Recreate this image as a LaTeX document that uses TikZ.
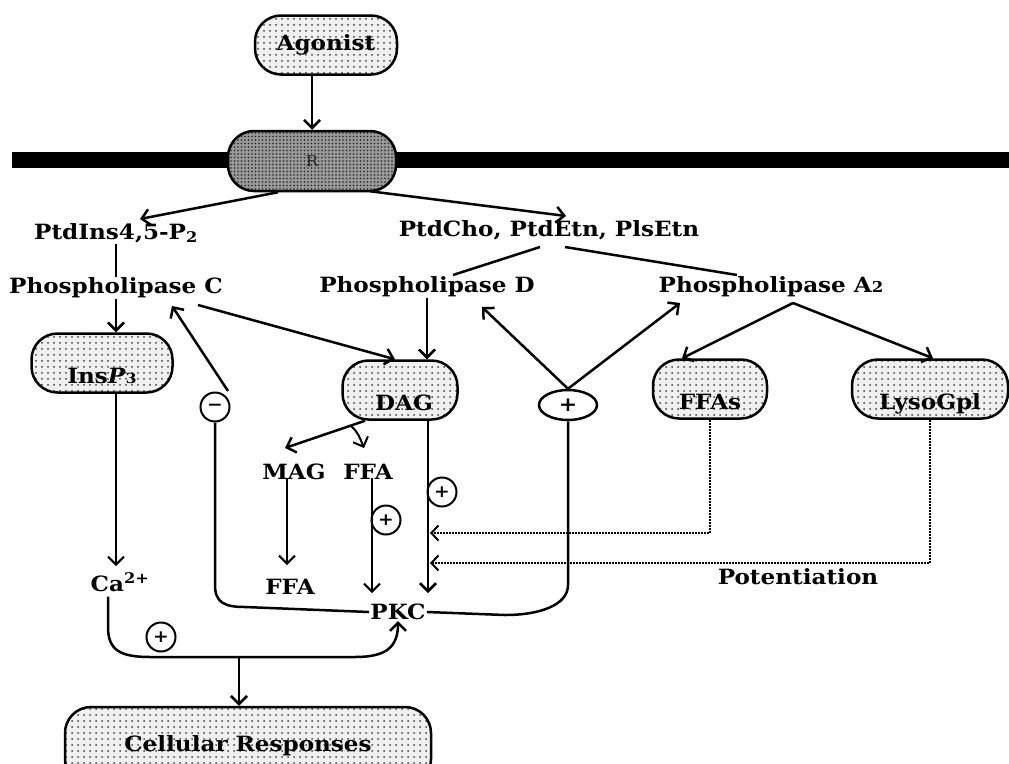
\documentclass[tikz,border=0pt]{standalone}
\usepackage{fontspec}
\setmainfont{DejaVu Serif}[FakeStretch=1.1]
\usetikzlibrary{arrows.meta,shapes.geometric,calc,patterns.meta}
\begin{document}
\begin{tikzpicture}[x=1pt,y=-1pt,
  lw/.style={line width=2.5pt},
  arr/.style={line width=2.5pt,-{Straight Barb[length=8pt,width=16pt]}},
  thinarr/.style={line width=2pt,-{Straight Barb[length=8pt,width=16pt]}},
  dotarr/.style={line width=2pt,densely dotted,-{Straight Barb[length=7pt,width=15pt]}},
  txt/.style={inner sep=1pt,font=\fontsize{21}{24}\selectfont\bfseries},
  lbox/.style={draw,line width=2.5pt,rounded corners=26pt,
    preaction={fill=black!6},pattern={Dots[distance=6pt,radius=1pt]},pattern color=black!75,
    minimum height=59pt,inner sep=0pt,font=\fontsize{21}{24}\selectfont\bfseries},
  rbox/.style={draw,line width=2.5pt,rounded corners=26pt,
    preaction={fill=black!40},pattern={Dots[distance=3.5pt,radius=0.9pt]},pattern color=black!85,
    inner sep=0pt},
  lowlbl/.style={text height=40pt,text depth=0pt},
  sign/.style={draw,circle,line width=2pt,minimum size=29pt,inner sep=0pt,fill=white,
    font=\fontsize{17}{17}\selectfont\bfseries},
]
\clip (0,0) rectangle (1009,763);
% membrane
\fill (12,152) rectangle (1009,168);
% boxes
\node[lbox,minimum width=142pt] (agonist) at (326,45) {Agonist};
\node[rbox,minimum width=168pt,minimum height=60pt] (R) at (312,161) {\fontsize{15}{15}\selectfont\color{black!85}R};
\node[lbox,lowlbl,minimum width=141pt] (insp3) at (102,363) {Ins\textit{P}{\fontsize{14}{14}\selectfont 3}};
\node[lbox,lowlbl,minimum width=115pt] (dag) at (400,390) {\hspace{8pt}DAG};
\node[lbox,lowlbl,minimum width=114pt] (ffas) at (710,389) {FFAs};
\node[lbox,lowlbl,minimum width=156pt] (lyso) at (930,389) {LysoGpl};
\node[lbox,minimum width=366pt,minimum height=78pt] (cell) at (248,746) {Cellular Responses};
% texts
\node[txt] (pip2) at (116,233) {PtdIns4,5-P\textsubscript{2}};
\node[txt] (plc) at (116,288) {Phospholipase C};
\node[txt] (ptdcho) at (549,230) {PtdCho, PtdEtn, PlsEtn};
\node[txt] (pld) at (427,287) {Phospholipase D};
\node[txt] (pla2) at (771,287) {Phospholipase A{\fontsize{15}{15}\selectfont 2}};
\node[txt] (mag) at (294,472) {MAG};
\node[txt] (ffa1) at (368,472) {FFA};
\node[txt] (ffa2) at (290,587) {FFA};
\node[txt] (pkc) at (398,612) {PKC};
\node[txt] (ca) at (120,582) {Ca\textsuperscript{2+}};
\node[txt] (pot) at (798,577) {Potentiation};
% signs
\node[draw,ellipse,line width=2.5pt,minimum width=58pt,minimum height=30pt,inner sep=0pt,fill=white,
  font=\fontsize{20}{20}\selectfont\bfseries] (pluse) at (568,405) {+};
\node[sign] (minus) at (215,407) {−};
\node[sign] (p1) at (442,492) {+};
\node[sign] (p2) at (386,520) {+};
\node[sign] (p3) at (161,637) {+};
% coordinates
\coordinate (cj) at (239,657);
\coordinate (dagsplit) at (351,426);
\coordinate (potA) at (430,533);
\coordinate (potB) at (430,563);
% connectors
\draw[arr] (R.north |- agonist.south) -- (R.north);
\draw[arr] ($(R.south)+(-34,0)$) -- ($(pip2)+(24,-14)$);
\draw[arr] ($(R.south)+(58,-1)$) -- ($(ptdcho)+(17,-14)$);
\draw[lw] (pip2.south) -- (plc.north);
\draw[arr] (plc.south) -- (plc.south |- insp3.north);
\draw[arr] ($(plc)+(82,17)$) -- ($(dag.north)+(-5,0)$);
\draw[arr] ($(minus)+(13,-16)$) -- ($(plc)+(56,18)$);
\draw[arr] (pld.south) -- (pld.south |- dag.north);
\draw[lw] ($(ptdcho)+(-9,17)$) -- ($(pld)+(26,-12)$);
\draw[lw] ($(ptdcho)+(16,17)$) -- ($(pla2)+(-34,-12)$);
\draw[arr] (pluse.north) -- ($(pld)+(55,20)$);
\draw[arr] (pluse.north) -- ($(pla2)+(-91,16)$);
\draw[arr] ($(pla2)+(22,16)$) -- ($(ffas.north)+(-28,0)$);
\draw[arr] ($(pla2)+(22,16)$) -- ($(lyso.north)+(3,0)$);
\draw[thinarr] ($(insp3.south)+(14,0)$) -- ($(ca)+(-4,-16)$);
\draw[arr] ($(ca.south)+(-12,4)$) -- (108,627) .. controls (108,650) and (120,657) .. (150,657)
  -- (355,657) .. controls (385,657) and (398,648) .. (pkc.south);
\draw[arr] (cj) -- (cj |- cell.north);
\draw[lw] (minus.south) -- (215,585) .. controls (215,603) and (225,607) .. (245,607) -- (pkc.west);
\draw[lw] (pluse.south) -- (568,585) .. controls (568,605) and (540,615) .. (505,615) -- (pkc.east);
\draw[arr] ($(dag.south)+(28,0)$) -- ($(pkc)+(30,-19)$);
\draw[arr] ($(dag.south)+(-35,0)$) -- ($(mag)+(-9,-24)$);
\draw[thinarr] (dagsplit) .. controls (358,432) and (360,438) .. ($(ffa1)+(-4,-24)$);
\draw[thinarr] ($(mag)+(-7,6)$) -- ($(ffa2)+(-3,-22)$);
\draw[thinarr] ($(ffa1)+(4,6)$) -- ($(pkc)+(-26,-19)$);
\draw[dotarr] (ffas.south) |- (potA);
\draw[dotarr] (lyso.south) |- (potB);
\end{tikzpicture}
\end{document}
